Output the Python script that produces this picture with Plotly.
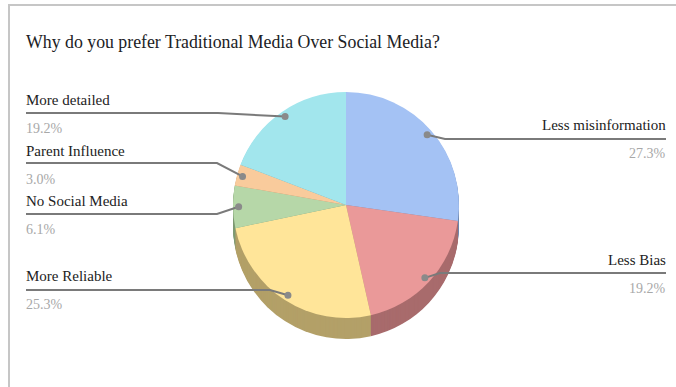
import math
import plotly.graph_objects as go

# ---- data ----
labels = ["Less misinformation", "Less Bias", "More Reliable", "No Social Media", "Parent Influence", "More detailed"]
counts = [27, 19, 25, 6, 3, 19]
top_colors = ["#a4c2f4", "#ea9999", "#ffe599", "#b6d7a8", "#f9cb9c", "#a2e6ed"]
side_colors = ["#6f86ad", "#a86b6c", "#b3a068", "#7f9a74", "#b08f6c", "#6ea3a8"]
title = "Why do you prefer Traditional Media Over Social Media?"

W, H = 676, 387
CX, CY, R = 346, 205, 113
DEPTH = 21
FONT = "'Times New Roman', 'Liberation Serif', 'DejaVu Serif', serif"

def px(x):
    return x / W

def py(y):
    return 1 - y / H

def dom(cx, cy, r):
    return dict(x=[px(cx - r), px(cx + r)], y=[py(cy + r), py(cy - r)])

fig = go.Figure()

# side (depth) layers
for k in range(DEPTH, 0, -1):
    fig.add_trace(go.Pie(
        labels=labels, values=counts, sort=False, direction="clockwise", rotation=0,
        marker=dict(colors=side_colors, line=dict(width=0)),
        textinfo="none", hoverinfo="skip", showlegend=False,
        domain=dom(CX, CY + k, R),
    ))

# top face
fig.add_trace(go.Pie(
    labels=labels, values=counts, sort=False, direction="clockwise", rotation=0,
    marker=dict(colors=top_colors, line=dict(width=0)),
    textinfo="none", hoverinfo="label+percent", showlegend=False,
    domain=dom(CX, CY, R),
))

total = sum(counts)
pcts = [c / total * 100 for c in counts]

# label layout: side, label y, pct y, line y, elbow x
layout_info = {
    "Less misinformation": ("right", 125, 153, 139, 445),
    "Less Bias": ("right", 260, 288, 273, 440),
    "More Reliable": ("left", 276, 304, 290, 270),
    "No Social Media": ("left", 201, 229, 214, 217),
    "Parent Influence": ("left", 151, 179, 163, 217),
    "More detailed": ("left", 100, 128, 113, 218),
}

shapes = []
annotations = []
cum = 0.0
for lab, p in zip(labels, pcts):
    mid = (cum + p / 2) / 100 * 2 * math.pi
    cum += p
    f = 0.95
    dx = CX + f * R * math.sin(mid)
    dy = CY - f * R * math.cos(mid)
    side, ly, pyy, liney, ex = layout_info[lab]
    if side == "left":
        x0, x1 = 26, ex
        xa, anchor = 24, "left"
    else:
        x0, x1 = 666, ex
        xa, anchor = 668, "right"
    path = f"M {px(x0)},{py(liney)} L {px(x1)},{py(liney)} L {px(dx)},{py(dy)}"
    shapes.append(dict(type="path", xref="paper", yref="paper", path=path,
                       line=dict(color="#7a7a7a", width=2), layer="above"))
    shapes.append(dict(type="circle", xref="paper", yref="paper",
                       x0=px(dx - 3.5), x1=px(dx + 3.5), y0=py(dy + 3.5), y1=py(dy - 3.5),
                       fillcolor="#8a8a8a", line=dict(width=0), layer="above"))
    annotations.append(dict(x=px(xa), y=py(ly), xref="paper", yref="paper", text=lab,
                            showarrow=False, xanchor=anchor, yanchor="middle",
                            font=dict(family=FONT, size=15, color="#222222")))
    annotations.append(dict(x=px(xa), y=py(pyy), xref="paper", yref="paper", text=f"{p:.1f}%",
                            showarrow=False, xanchor=anchor, yanchor="middle",
                            font=dict(family=FONT, size=14, color="#a8a8a8")))

annotations.append(dict(x=px(24), y=py(42), xref="paper", yref="paper", text=title,
                        showarrow=False, xanchor="left", yanchor="middle",
                        font=dict(family=FONT, size=17.8, color="#202124")))

# frame borders
shapes.append(dict(type="line", xref="paper", yref="paper", x0=px(8), x1=1, y0=py(5), y1=py(5),
                   line=dict(color="#c6c6c6", width=2)))
shapes.append(dict(type="line", xref="paper", yref="paper", x0=px(9), x1=px(9), y0=py(5), y1=0,
                   line=dict(color="#c6c6c6", width=2)))

fig.update_layout(
    width=W, height=H, margin=dict(l=0, r=0, t=0, b=0),
    paper_bgcolor="white", plot_bgcolor="white",
    shapes=shapes, annotations=annotations,
)

fig.write_html("out.html")
